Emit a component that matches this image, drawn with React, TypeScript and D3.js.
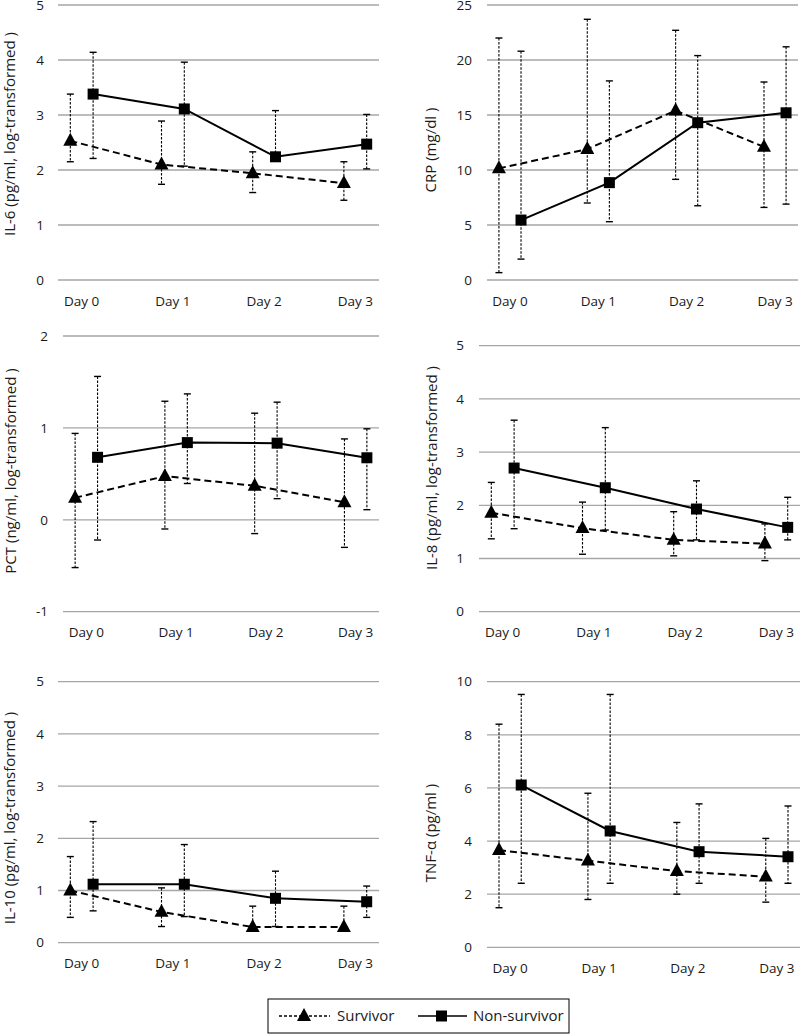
import React from "react";
import * as d3 from "d3";

const days = ["Day 0", "Day 1", "Day 2", "Day 3"];

// IL-6
const il6Surv = [2.53, 2.1, 1.94, 1.76];
const il6SurvLo = [2.15, 1.74, 1.59, 1.45];
const il6SurvHi = [3.38, 2.89, 2.33, 2.15];
const il6Non = [3.38, 3.11, 2.24, 2.47];
const il6NonLo = [2.21, 2.07, 2.22, 2.02];
const il6NonHi = [4.14, 3.96, 3.08, 3.01];

// CRP
const crpSurv = [10.15, 11.9, 15.4, 12.1];
const crpSurvLo = [0.67, 7.0, 9.15, 6.6];
const crpSurvHi = [22.0, 23.7, 22.7, 18.0];
const crpNon = [5.45, 8.85, 14.3, 15.2];
const crpNonLo = [1.9, 5.3, 6.75, 6.9];
const crpNonHi = [20.8, 18.1, 20.4, 21.2];

// PCT
const pctSurv = [0.24, 0.475, 0.37, 0.19];
const pctSurvLo = [-0.52, -0.1, -0.15, -0.3];
const pctSurvHi = [0.94, 1.29, 1.16, 0.88];
const pctNon = [0.68, 0.84, 0.834, 0.675];
const pctNonLo = [-0.22, 0.395, 0.23, 0.11];
const pctNonHi = [1.56, 1.37, 1.28, 0.99];

// IL-8
const il8Surv = [1.86, 1.57, 1.35, 1.28];
const il8SurvLo = [1.37, 1.08, 1.05, 0.96];
const il8SurvHi = [2.43, 2.06, 1.88, 1.65];
const il8Non = [2.7, 2.33, 1.93, 1.585];
const il8NonLo = [1.56, 1.535, 1.35, 1.35];
const il8NonHi = [3.6, 3.46, 2.46, 2.15];

// IL-10
const il10Surv = [1.0, 0.59, 0.3, 0.3];
const il10SurvLo = [0.485, 0.31, 0.3, 0.3];
const il10SurvHi = [1.65, 1.05, 0.7, 0.7];
const il10Non = [1.12, 1.12, 0.85, 0.785];
const il10NonLo = [0.61, 0.5, 0.31, 0.485];
const il10NonHi = [2.32, 1.88, 1.37, 1.085];

// TNF-α
const tnfSurv = [3.66, 3.26, 2.87, 2.66];
const tnfSurvLo = [1.49, 1.8, 2.0, 1.7];
const tnfSurvHi = [8.4, 5.8, 4.7, 4.1];
const tnfNon = [6.11, 4.38, 3.6, 3.41];
const tnfNonLo = [2.41, 2.41, 2.41, 2.41];
const tnfNonHi = [9.52, 9.52, 5.4, 5.32];

const legendLabels = ["Survivor", "Non-survivor"];

const FONT = "'Open Sans', sans-serif";

type Frame = {
  left: number; right: number; top: number; bottom: number;
  domain: [number, number]; ticks: number[];
  tickRight: number; titleX: number; titleY: number; labelY: number;
};

type PanelProps = {
  frame: Frame; title: string;
  surv: number[]; survLo: number[]; survHi: number[];
  non: number[]; nonLo: number[]; nonHi: number[];
};

function triPath(cx: number, cy: number, s: number) {
  const h = s * 0.92;
  return `M${cx},${cy - h * 0.62} L${cx + s / 2},${cy + h * 0.38} L${cx - s / 2},${cy + h * 0.38} Z`;
}

function Panel({ frame, title, surv, survLo, survHi, non, nonLo, nonHi }: PanelProps) {
  const x = d3.scalePoint<string>().domain(days).range([frame.left, frame.right]).padding(0.26);
  const y = d3.scaleLinear().domain(frame.domain).range([frame.bottom, frame.top]);
  const off = x.step() * 0.125;
  const line = d3.line<[number, number]>().x((d) => d[0]).y((d) => d[1]);
  const sPts: [number, number][] = surv.map((v, i) => [x(days[i])! - off, y(v)]);
  const nPts: [number, number][] = non.map((v, i) => [x(days[i])! + off, y(v)]);
  const cap = 3.5;
  const errBars = (pts: [number, number][], lo: number[], hi: number[], key: string) =>
    pts.map((p, i) => (
      <g key={key + i}>
        <line x1={p[0]} x2={p[0]} y1={y(hi[i])} y2={y(lo[i])} stroke="#000" strokeWidth={1.1} strokeDasharray="2.5,1.5" />
        <line x1={p[0] - cap} x2={p[0] + cap} y1={y(hi[i])} y2={y(hi[i])} stroke="#000" strokeWidth={1.4} />
        <line x1={p[0] - cap} x2={p[0] + cap} y1={y(lo[i])} y2={y(lo[i])} stroke="#000" strokeWidth={1.4} />
      </g>
    ));
  return (
    <g>
      {frame.ticks.map((t) => (
        <g key={t}>
          <line x1={frame.left} x2={frame.right} y1={y(t)} y2={y(t)} stroke="#a6a6a6" strokeWidth={1.3} />
          <text x={frame.tickRight} y={y(t)} dy="0.35em" textAnchor="end" fontSize={13.5} fontFamily={FONT} fill="#1a1a1a">
            {t}
          </text>
        </g>
      ))}
      {days.map((d) => (
        <text key={d} x={x(d)} y={frame.labelY} dy="0.35em" textAnchor="middle" fontSize={13.5} fontFamily={FONT} fill="#1a1a1a">
          {d}
        </text>
      ))}
      <text
        transform={`translate(${frame.titleX},${frame.titleY}) rotate(-90)`}
        textAnchor="middle" dy="0.35em" fontSize={15} fontFamily={FONT} fill="#1a1a1a"
      >
        {title}
      </text>
      {errBars(sPts, survLo, survHi, "s")}
      {errBars(nPts, nonLo, nonHi, "n")}
      <path d={line(sPts) || ""} fill="none" stroke="#000" strokeWidth={2} strokeDasharray="7,4" />
      <path d={line(nPts) || ""} fill="none" stroke="#000" strokeWidth={2} />
      {sPts.map((p, i) => (
        <path key={"st" + i} d={triPath(p[0], p[1], 14)} fill="#000" />
      ))}
      {nPts.map((p, i) => (
        <rect key={"nr" + i} x={p[0] - 5.5} y={p[1] - 5.5} width={11} height={11} fill="#000" />
      ))}
    </g>
  );
}

const frames: Record<string, Frame> = {
  il6: { left: 58, right: 379, top: 5, bottom: 280, domain: [0, 5], ticks: [0, 1, 2, 3, 4, 5], tickRight: 44, titleX: 10, titleY: 134, labelY: 301 },
  crp: { left: 487, right: 798, top: 5, bottom: 280, domain: [0, 25], ticks: [0, 5, 10, 15, 20, 25], tickRight: 472, titleX: 431, titleY: 150, labelY: 301 },
  pct: { left: 63, right: 379, top: 336, bottom: 611.7, domain: [-1, 2], ticks: [-1, 0, 1, 2], tickRight: 48, titleX: 11, titleY: 471, labelY: 632 },
  il8: { left: 479, right: 800, top: 345.7, bottom: 611.7, domain: [0, 5], ticks: [0, 1, 2, 3, 4, 5], tickRight: 464, titleX: 432, titleY: 468, labelY: 632 },
  il10: { left: 58, right: 379, top: 681.7, bottom: 942.7, domain: [0, 5], ticks: [0, 1, 2, 3, 4, 5], tickRight: 44, titleX: 10, titleY: 818, labelY: 963 },
  tnf: { left: 487, right: 800, top: 681.7, bottom: 947.3, domain: [0, 10], ticks: [0, 2, 4, 6, 8, 10], tickRight: 472, titleX: 431, titleY: 833, labelY: 968 },
};

export default function App() {
  return (
    <svg width={800} height={1035} style={{ position: "absolute", left: 0, top: 0, background: "#fff" }}>
      <rect width={800} height={1035} fill="#fff" />
      <Panel frame={frames.il6} title="IL-6 (pg/ml, log-transformed )" surv={il6Surv} survLo={il6SurvLo} survHi={il6SurvHi} non={il6Non} nonLo={il6NonLo} nonHi={il6NonHi} />
      <Panel frame={frames.crp} title="CRP (mg/dl )" surv={crpSurv} survLo={crpSurvLo} survHi={crpSurvHi} non={crpNon} nonLo={crpNonLo} nonHi={crpNonHi} />
      <Panel frame={frames.pct} title="PCT (ng/ml, log-transformed )" surv={pctSurv} survLo={pctSurvLo} survHi={pctSurvHi} non={pctNon} nonLo={pctNonLo} nonHi={pctNonHi} />
      <Panel frame={frames.il8} title="IL-8 (pg/ml, log-transformed )" surv={il8Surv} survLo={il8SurvLo} survHi={il8SurvHi} non={il8Non} nonLo={il8NonLo} nonHi={il8NonHi} />
      <Panel frame={frames.il10} title="IL-10 (pg/ml, log-transformed )" surv={il10Surv} survLo={il10SurvLo} survHi={il10SurvHi} non={il10Non} nonLo={il10NonLo} nonHi={il10NonHi} />
      <Panel frame={frames.tnf} title="TNF-α (pg/ml )" surv={tnfSurv} survLo={tnfSurvLo} survHi={tnfSurvHi} non={tnfNon} nonLo={tnfNonLo} nonHi={tnfNonHi} />
      <g>
        <rect x={268} y={999} width={301} height={34} fill="#fff" stroke="#000" strokeWidth={1} />
        <line x1={279} x2={330} y1={1016} y2={1016} stroke="#000" strokeWidth={1.3} strokeDasharray="3,2" />
        <path d={triPath(304, 1016, 14)} fill="#000" />
        <text x={337} y={1016} dy="0.35em" fontSize={15} fontFamily={FONT} fill="#1a1a1a">{legendLabels[0]}</text>
        <line x1={418} x2={467} y1={1016} y2={1016} stroke="#000" strokeWidth={1.5} />
        <rect x={436} y={1010.5} width={11} height={11} fill="#000" />
        <text x={473} y={1016} dy="0.35em" fontSize={15} fontFamily={FONT} fill="#1a1a1a">{legendLabels[1]}</text>
      </g>
    </svg>
  );
}
